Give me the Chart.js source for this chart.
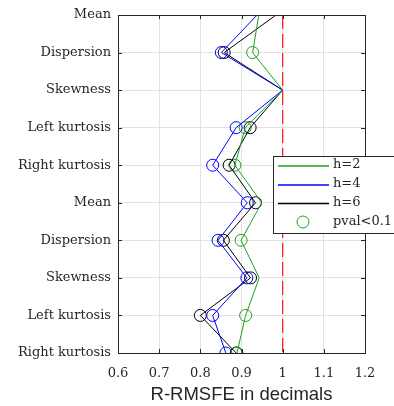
<!DOCTYPE html>
<html>
<head>
<meta charset="utf-8">
<script src="https://cdn.jsdelivr.net/npm/chart.js@4"></script>
<style>
  html, body { margin: 0; padding: 0; background: #fff; }
  canvas { display: block; }
</style>
</head>
<body>
<canvas id="chart" width="394" height="406"></canvas>
<script>
// --- DATA ---
const categories = ['Mean', 'Dispersion', 'Skewness', 'Left kurtosis', 'Right kurtosis',
                    'Mean', 'Dispersion', 'Skewness', 'Left kurtosis', 'Right kurtosis'];
const xTicks = [0.6, 0.7, 0.8, 0.9, 1, 1.1, 1.2];

const h2Values = [0.942, 0.927, 1.0, 0.909, 0.884, 0.949, 0.899, 0.943, 0.910, 0.889];
const h4Values = [0.938, 0.851, 1.0, 0.887, 0.830, 0.914, 0.843, 0.913, 0.830, 0.862];
const h6Values = [0.984, 0.858, 1.0, 0.921, 0.870, 0.934, 0.856, 0.922, 0.800, 0.887];

// 1 = pval < 0.1 (circle drawn)
const h2Signif = [0, 1, 0, 1, 1, 0, 1, 0, 1, 1];
const h4Signif = [0, 1, 0, 1, 1, 1, 1, 1, 1, 1];
const h6Signif = [0, 1, 0, 1, 1, 1, 1, 1, 1, 1];

const seriesNames = ['h=2', 'h=4', 'h=6'];
const refLine = 1;

// --- STYLE ---
const GREEN = '#1fa01f';
const BLUE = '#0000ff';
const BLACK = '#000000';
const colors = [GREEN, BLUE, BLACK];
const serif = '"DejaVu Serif", serif';
const axisColor = '#262626';

function toPoints(values) {
    return values.map((v, i) => ({ x: v, y: i }));
}
function toCircles(values, flags) {
    return values.map((v, i) => ({ x: v, y: i })).filter((p, i) => flags[i]);
}

const allValues = [h2Values, h4Values, h6Values];
const allFlags = [h2Signif, h4Signif, h6Signif];

const datasets = [{
    label: 'ref',
    data: [{ x: refLine, y: 0 }, { x: refLine, y: categories.length - 1 }],
    showLine: true,
    borderColor: '#ff2020',
    borderWidth: 1.3,
    borderDash: [14, 5],
    pointRadius: 0
}];
allValues.forEach((vals, k) => {
    datasets.push({
        label: seriesNames[k],
        data: toPoints(vals),
        showLine: true,
        borderColor: colors[k],
        borderWidth: 1,
        pointRadius: 0,
        fill: false
    });
});
allValues.forEach((vals, k) => {
    datasets.push({
        label: 'pval' + k,
        data: toCircles(vals, allFlags[k]),
        showLine: false,
        pointStyle: 'circle',
        pointRadius: 6,
        pointBorderWidth: 1,
        pointBorderColor: colors[k],
        pointBackgroundColor: 'rgba(0,0,0,0)'
    });
});

// Box, inside ticks and legend
const frame = {
    id: 'frame',
    afterDraw(chart) {
        const { ctx, chartArea: a, scales } = chart;
        ctx.save();
        ctx.strokeStyle = axisColor;
        ctx.lineWidth = 1;
        ctx.beginPath();
        xTicks.forEach(t => {
            const px = Math.round(scales.x.getPixelForValue(t)) + 0.5;
            ctx.moveTo(px, a.bottom); ctx.lineTo(px, a.bottom - 4);
            ctx.moveTo(px, a.top); ctx.lineTo(px, a.top + 4);
        });
        categories.forEach((c, i) => {
            const py = Math.round(scales.y.getPixelForValue(i)) + 0.5;
            ctx.moveTo(a.left, py); ctx.lineTo(a.left + 4, py);
            ctx.moveTo(a.right, py); ctx.lineTo(a.right - 4, py);
        });
        ctx.stroke();
        ctx.strokeRect(Math.round(a.left) + 0.5, Math.round(a.top) + 0.5,
                       Math.round(a.right - a.left), Math.round(a.bottom - a.top));

        // legend
        const lx = 273.5, ly = 156.5, lw = 140, lh = 77;
        ctx.fillStyle = '#fff';
        ctx.fillRect(lx, ly, lw, lh);
        ctx.strokeRect(lx, ly, lw, lh);
        const rows = [166, 185, 203.5, 222];
        ctx.font = '13px ' + serif;
        ctx.textBaseline = 'middle';
        ctx.textAlign = 'left';
        seriesNames.forEach((name, k) => {
            ctx.strokeStyle = colors[k];
            ctx.lineWidth = 1.3;
            ctx.beginPath();
            ctx.moveTo(278, rows[k]);
            ctx.lineTo(329, rows[k]);
            ctx.stroke();
            ctx.fillStyle = axisColor;
            ctx.fillText(name, 333, rows[k] - 1);
        });
        ctx.strokeStyle = GREEN;
        ctx.lineWidth = 1;
        ctx.beginPath();
        ctx.arc(303, rows[3], 6, 0, Math.PI * 2);
        ctx.stroke();
        ctx.fillStyle = axisColor;
        ctx.fillText('pval<0.1', 333, rows[3]);
        ctx.restore();
    }
};

new Chart(document.getElementById('chart'), {
    type: 'scatter',
    data: { datasets },
    options: {
        responsive: false,
        animation: false,
        devicePixelRatio: 1,
        layout: { padding: { top: 15, right: 29, bottom: 0, left: 0 } },
        plugins: { legend: { display: false }, tooltip: { enabled: false } },
        scales: {
            x: {
                type: 'linear',
                min: 0.6, max: 1.2,
                afterBuildTicks: s => { s.ticks = xTicks.map(v => ({ value: v })); },
                afterFit: s => { s.height = 53; },
                grid: { color: '#e2e2e2', drawTicks: false },
                border: { display: false },
                ticks: {
                    padding: 13,
                    color: axisColor,
                    font: { family: serif, size: 13 },
                    callback: v => String(Number(v.toFixed(1)))
                },
                title: {
                    display: true,
                    text: 'R-RMSFE in decimals',
                    color: '#262626',
                    font: { family: '"Liberation Sans", Arial, sans-serif', size: 18.5 },
                    padding: { top: 6, bottom: 0 }
                }
            },
            y: {
                type: 'linear',
                min: 0, max: categories.length - 1,
                reverse: true,
                afterBuildTicks: s => { s.ticks = categories.map((c, i) => ({ value: i })); },
                afterFit: s => { s.width = 118; },
                grid: { color: '#e2e2e2', drawTicks: false },
                border: { display: false },
                ticks: {
                    padding: 7,
                    color: axisColor,
                    font: { family: serif, size: 13 },
                    callback: v => categories[v]
                }
            }
        }
    },
    plugins: [frame]
});
</script>
</body>
</html>
